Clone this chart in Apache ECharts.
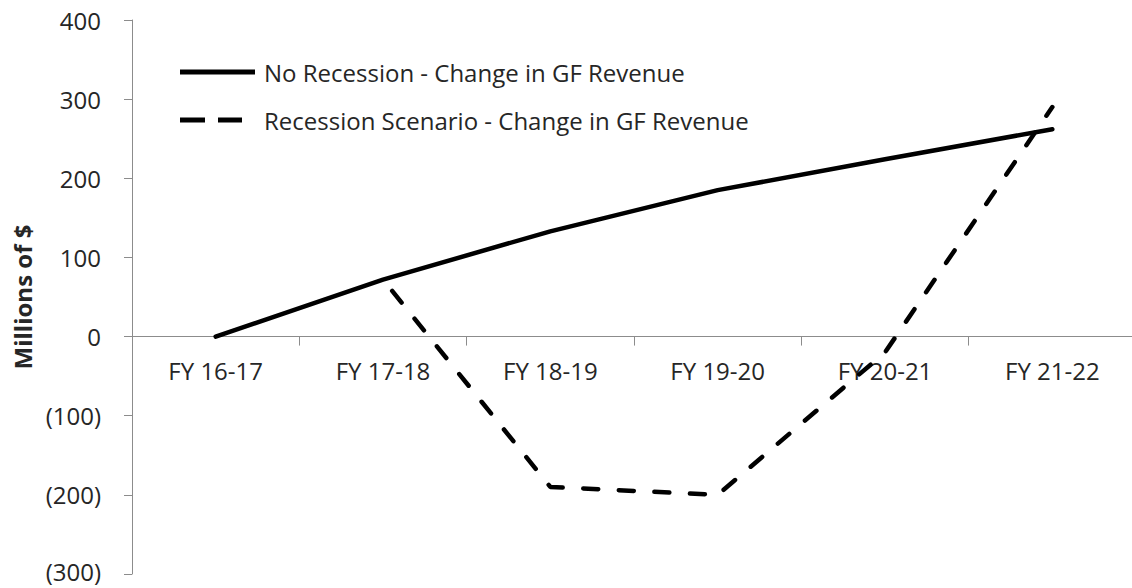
<!DOCTYPE html>
<html>
<head>
<meta charset="utf-8">
<script src="https://cdn.jsdelivr.net/npm/echarts@6/dist/echarts.min.js"></script>
<style>
  html, body { margin: 0; padding: 0; background: #fff; }
  #chart { width: 1132px; height: 588px; }
</style>
</head>
<body>
<div id="chart"></div>
<script>
var categories = ['FY 16-17', 'FY 17-18', 'FY 18-19', 'FY 19-20', 'FY 20-21', 'FY 21-22'];
var noRecession = [0, 72, 133, 185, 224, 262];
var recession = [null, 72, -190, -200, -20, 290];
var seriesNames = ['No Recession - Change in GF Revenue', 'Recession Scenario - Change in GF Revenue'];

var font = '"Open Sans", sans-serif';
var ink = '#262626';
var axisGray = '#8c8c8c';

// plot box, and where the 0 line falls inside it
var gridTop = 20, gridHeight = 554, yMin = -300, yMax = 400;
var zeroOffset = -gridHeight * (0 - yMin) / (yMax - yMin);

var chart = echarts.init(document.getElementById('chart'), null, { renderer: 'svg' });
chart.setOption({
  animation: false,
  textStyle: { fontFamily: font },
  grid: { left: 132, top: gridTop, width: 1004, height: gridHeight, containLabel: false, outerBoundsMode: 'none' },
  legend: [{
    data: [{ name: seriesNames[0], icon: 'path://M0,0H75V5H0Z' }],
    left: 175, top: 55,
    itemWidth: 75, itemHeight: 5,
    textStyle: { color: ink, fontSize: 24, fontFamily: font, padding: [0, 0, 0, 4] },
    itemStyle: { color: '#000' }
  }, {
    data: [{ name: seriesNames[1], icon: 'path://M0,0H25V5H0ZM38,0H62V5H38ZM75,0L75,5Z' }],
    left: 175, top: 103,
    itemWidth: 75, itemHeight: 5,
    textStyle: { color: ink, fontSize: 24, fontFamily: font, padding: [0, 0, 0, 4] },
    itemStyle: { color: '#000' }
  }],
  xAxis: {
    type: 'category',
    data: categories,
    boundaryGap: true,
    position: 'bottom',
    offset: zeroOffset,
    axisLine: { onZero: false, lineStyle: { color: axisGray, width: 1 } },
    axisTick: { show: true, length: 9, lineStyle: { color: axisGray } },
    axisLabel: { color: ink, fontSize: 24, fontFamily: font, margin: 22 },
    splitLine: { show: false }
  },
  yAxis: {
    type: 'value',
    min: yMin, max: yMax, interval: 100,
    name: 'Millions of $',
    nameLocation: 'middle',
    nameGap: 98,
    nameRotate: 90,
    nameTextStyle: { color: ink, fontSize: 24, fontWeight: 'bold', fontFamily: font },
    axisLine: { show: true, lineStyle: { color: axisGray, width: 1 } },
    axisTick: { show: true, length: 8, lineStyle: { color: axisGray } },
    axisLabel: {
      color: ink, fontSize: 24, lineHeight: 20, fontFamily: font, margin: 31,
      formatter: function (v) {
        var s = v < 0 ? '(' + Math.abs(v) + ')' : String(v);
        return v === yMin ? '{low|' + s + '}' : s;
      },
      rich: { low: { color: ink, fontSize: 24, lineHeight: 20, fontFamily: font, padding: [0, 0, 6, 0] } }
    },
    splitLine: { show: false }
  },
  series: [{
    name: seriesNames[0],
    type: 'line',
    data: noRecession,
    symbol: 'none',
    itemStyle: { color: '#000' },
    lineStyle: { color: '#000', width: 4.5, cap: 'round', join: 'round' }
  }, {
    name: seriesNames[1],
    type: 'line',
    data: recession,
    symbol: 'none',
    itemStyle: { color: '#000' },
    lineStyle: { color: '#000', width: 4.5, type: [15, 20.6], dashOffset: 20.6, cap: 'round', join: 'round' }
  }]
});
</script>
</body>
</html>
